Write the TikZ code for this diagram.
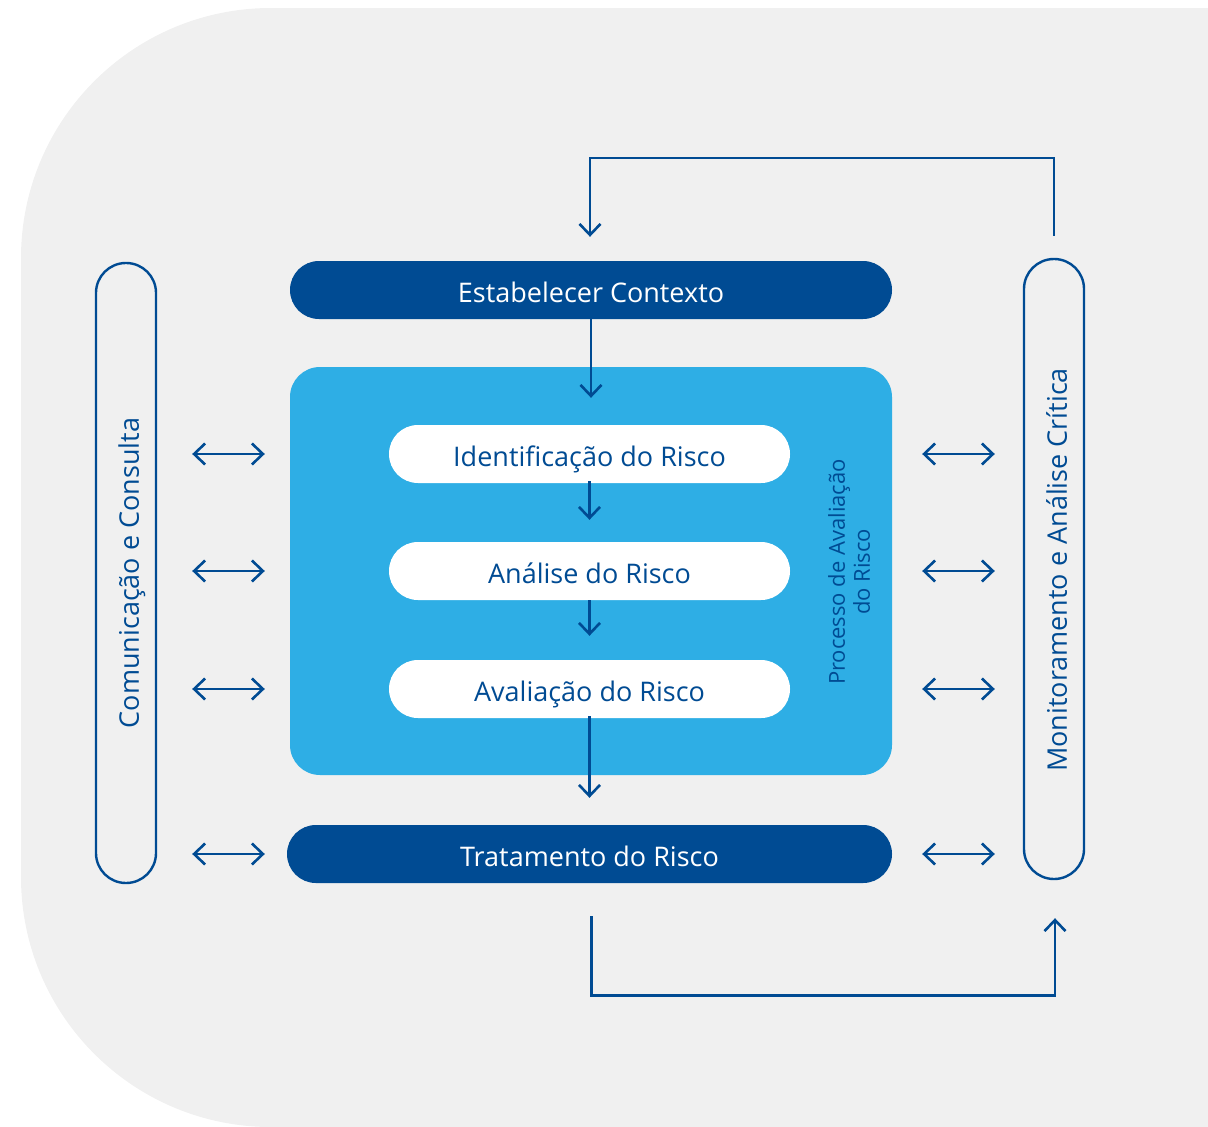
\documentclass[tikz,border=0pt]{standalone}
\usepackage{fontspec}
\setmainfont{Open Sans}
\usetikzlibrary{arrows.meta,calc}
\definecolor{dkblue}{HTML}{004B93}
\definecolor{ltblue}{HTML}{2EAEE5}
\definecolor{bggray}{HTML}{F0F0F0}
\begin{document}
\begin{tikzpicture}[x=1pt,y=-1pt,
  mainfont/.style={font=\fontsize{27}{32}\selectfont,text height=19.5pt,text depth=0pt},
  pillfont/.style={font=\fontsize{27}{32}\selectfont,text height=24pt,text depth=0pt},
  darkpill/.style={fill=dkblue,rounded corners=28.9pt,minimum height=58pt,inner sep=0pt,text=white,pillfont},
  whitepill/.style={fill=white,rounded corners=28.9pt,minimum width=401pt,minimum height=58pt,inner sep=0pt,text=dkblue,pillfont},
  sidepill/.style={draw=dkblue,line width=2.4pt,rounded corners=29.9pt,minimum width=60pt,inner sep=0pt},
  sidetext/.style={rotate=90,text=dkblue,mainfont,inner sep=0pt},
  arr/.style={draw=dkblue,line width=2.6pt,-{Straight Barb[length=11pt,width=21pt]}},
  darr/.style={draw=dkblue,line width=2.6pt,{Straight Barb[length=11pt,width=21pt]}-{Straight Barb[length=11pt,width=21pt]}}
]
\useasboundingbox (0,0) rectangle (1208,1127);
% background
\fill[bggray] (1208,8) -- (271,8) arc[start angle=270,end angle=180,radius=250] -- (21,877) arc[start angle=180,end angle=90,radius=250] -- (1208,1127) -- cycle;

% process box
\node[fill=ltblue,rounded corners=30pt,minimum width=602pt,minimum height=408pt,inner sep=0pt] (proc) at (591,571) {};

% main nodes
\node[darkpill,minimum width=602pt] (ctx) at (591,290) {Estabelecer Contexto};
\node[whitepill] (ident) at (589.5,454) {Identificação do Risco};
\node[whitepill] (anal) at (589.5,571) {Análise do Risco};
\node[whitepill] (aval) at (589.5,689) {Avaliação do Risco};
\node[darkpill,minimum width=605pt] (trat) at (589.5,854) {Tratamento do Risco};

\node[rotate=90,text=dkblue,align=center,font=\fontsize{22}{25}\selectfont] (proclabel) at (849,572) {Processo de Avaliação\\do Risco};

% side pills
\node[sidepill,minimum height=620pt] (com) at (126,573) {};
\node[sidetext] (comtext) at (129,573) {Comunicação e Consulta};
\node[sidepill,minimum height=620pt] (mon) at (1054,569) {};
\node[sidetext] (montext) at (1057,570) {Monitoramento e Análise Crítica};

% vertical flow
\draw[arr] (ctx.south) -- ($(ctx.south |- ident.north)+(0,-27)$);
\draw[arr] ([yshift=2pt]ident.south) -- ($(ident.south |- anal.north)+(0,-22)$);
\draw[arr] (anal.south) -- ($(anal.south |- aval.north)+(0,-24)$);
\draw[arr] ([yshift=2pt]aval.south) -- ($(aval.south |- trat.north)+(0,-27)$);

% feedback loops
\draw[arr] ($(mon.north)+(0,-22)$) -- ++(0,-78) -| ($(ctx.north)+(-1,-24)$);
\draw[arr] ($(trat.south)+(2,33)$) -- ++(0,79) -| ($(mon.south)+(1,38)$);

% double arrows
\foreach \n in {ident,anal,aval,trat}{
  \draw[darr] ($(com.east |- \n.center)+(35,0)$) -- ($(proc.west |- \n.center)+(-25,0)$);
  \draw[darr] ($(proc.east |- \n.center)+(30,0)$) -- ($(mon.west |- \n.center)+(-28,0)$);
}
\end{tikzpicture}
\end{document}
